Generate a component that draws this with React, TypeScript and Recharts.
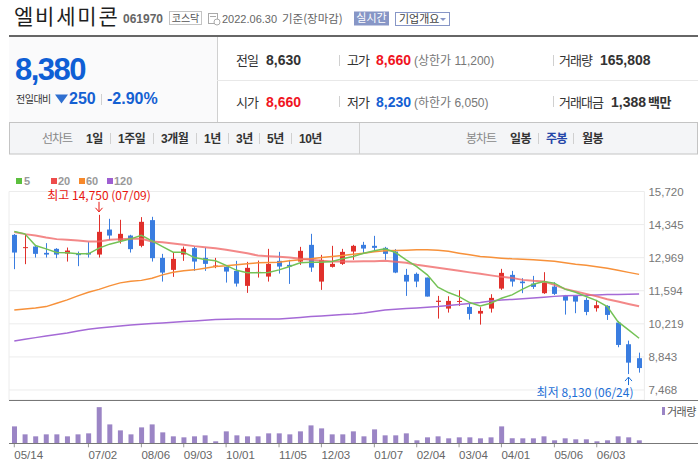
import React from 'react';
import {
  ComposedChart,
  Bar,
  Line,
  XAxis,
  YAxis,
  CartesianGrid,
  ReferenceDot,
} from 'recharts';

const weekLabels = [
  '05/14', '05/21', '05/28', '06/04', '06/11', '06/18', '06/25', '07/02', '07/09', '07/16',
  '07/23', '07/30', '08/06', '08/13', '08/20', '08/27', '09/03', '09/10', '09/17', '09/24',
  '10/01', '10/08', '10/15', '10/22', '10/29', '11/05', '11/12', '11/19', '11/26', '12/03',
  '12/10', '12/17', '12/24', '12/31', '01/07', '01/14', '01/21', '01/28', '02/04', '02/11',
  '02/18', '02/25', '03/04', '03/11', '03/18', '03/25', '04/01', '04/08', '04/15', '04/22',
  '04/29', '05/06', '05/13', '05/20', '05/27', '06/03', '06/10', '06/17', '06/24', '06/30',
];
const tickLabels = ['05/14', '07/02', '08/06', '09/03', '10/01', '11/05', '12/03', '01/07', '02/04', '03/04', '04/01', '05/06', '06/03'];
const priceTicks = [7468, 8843, 10219, 11594, 12969, 14345, 15720];
const priceFloor = 7052;

const opens = [
  13918, 13366, 13431, 13169, 13336, 13140, 13157, 13169, 13099, 14139,
  13681, 13889, 13461, 14530, 12961, 12462, 13099, 13365, 12961, 12599,
  12587, 12420, 11797, 12337, 12183, 12836, 12670, 12807, 13502, 11975,
  12587, 12712, 13224, 13502, 13461, 13378, 13223, 12254, 12296, 12142,
  11130, 10852, 11130, 10922, 10644, 10852, 11684, 12254, 11976, 11892,
  11492, 11767, 11380, 11380, 11213, 10868, 10964, 10269, 9370, 8790,
];
const highs = [
  13950, 13918, 13502, 13573, 13365, 13390, 13224, 13614, 14750, 14584,
  14543, 13920, 14655, 14668, 13128, 13182, 13431, 13431, 13378, 12961,
  12600, 12836, 12795, 12849, 13336, 13211, 12878, 13419, 13960, 13086,
  13461, 13336, 13502, 13627, 13876, 13419, 13325, 12504, 12350, 12142,
  11380, 11367, 11617, 11076, 10908, 11450, 12504, 12420, 12116, 12212,
  12366, 11950, 11420, 11409, 11310, 11213, 10993, 10339, 9520, 9020,
];
const lows = [
  12491, 12699, 12974, 12974, 12949, 12807, 12616, 12974, 12974, 13698,
  13556, 13182, 13400, 12807, 11975, 12171, 12836, 12420, 12420, 12532,
  11933, 11767, 11505, 12142, 11975, 12308, 11879, 12670, 12379, 11630,
  12558, 12670, 12878, 13157, 13224, 12878, 12325, 11380, 11742, 11352,
  10436, 10686, 10964, 10394, 10186, 10686, 11630, 11767, 11493, 11671,
  11463, 11420, 10602, 10660, 10576, 10727, 10381, 9245, 8130, 8190,
];
const closes = [
  13182, 13407, 13128, 13099, 13099, 13265, 13074, 13099, 14043, 13889,
  13960, 13323, 14459, 12949, 12349, 12919, 13336, 12807, 12711, 12641,
  12391, 11892, 12546, 12378, 12712, 12599, 12599, 13253, 12558, 12878,
  12712, 13211, 13461, 13348, 13378, 13128, 12350, 11976, 11976, 11352,
  11180, 11172, 11170, 10631, 10756, 11297, 12337, 11976, 11908, 11754,
  11934, 11463, 11185, 11143, 10714, 10993, 10589, 9341, 8605, 8380,
];
const ma5 = [
  14056, 13960, 13473, 13336, 13182, 13170, 13128, 13128, 13365, 13531,
  13640, 13752, 13898, 13669, 13432, 13199, 13199, 12974, 12891, 12837,
  12650, 12442, 12338, 12338, 12350, 12462, 12600, 12754, 12783, 12783,
  12808, 12920, 13016, 13156, 13253, 13336, 13182, 12878, 12600, 12254,
  11743, 11518, 11352, 11102, 10964, 11077, 11285, 11422, 11660, 11867,
  11975, 11909, 11660, 11534, 11352, 11185, 10935, 10311, 9966, 9620,
];
const ma20 = [
  14031, 13948, 13890, 13806, 13740, 13711, 13681, 13640, 13640, 13711,
  13740, 13752, 13752, 13640, 13615, 13557, 13503, 13449, 13407, 13365,
  13295, 13224, 13157, 13057, 13032, 13003, 12974, 12920, 12878, 12837,
  12808, 12808, 12808, 12816, 12816, 12837, 12795, 12754, 12671, 12608,
  12546, 12483, 12421, 12358, 12296, 12233, 12171, 12129, 12046, 12005,
  11975, 11838, 11672, 11568, 11464, 11360, 11243, 11143, 11047, 10952,
];
const ma60 = [
  10798, 10840, 10881, 10935, 11077, 11214, 11381, 11534, 11651, 11797,
  11921, 11984, 12025, 12117, 12254, 12366, 12421, 12462, 12533, 12600,
  12629, 12670, 12712, 12754, 12766, 12783, 12837, 12878, 12920, 12974,
  13016, 13057, 13107, 13157, 13211, 13253, 13265, 13282, 13294, 13294,
  13274, 13232, 13157, 13086, 13016, 12983, 12949, 12920, 12908, 12878,
  12849, 12816, 12754, 12691, 12650, 12587, 12525, 12442, 12358, 12275,
];
const ma120 = [
  9508, 9579, 9645, 9716, 9778, 9841, 9924, 9995, 10049, 10091,
  10132, 10174, 10203, 10228, 10257, 10286, 10311, 10340, 10369, 10394,
  10411, 10415, 10419, 10424, 10424, 10424, 10453, 10486, 10520, 10548,
  10578, 10607, 10632, 10673, 10735, 10798, 10827, 10852, 10881, 10910,
  10935, 10985, 11027, 11068, 11110, 11164, 11214, 11235, 11264, 11297,
  11326, 11360, 11381, 11393, 11410, 11422, 11435, 11443, 11448, 11460,
];
const volumes = [
  2040000, 1080000, 840000, 1080000, 1080000, 840000, 1080000, 1200000, 4360000, 2280000,
  1560000, 1080000, 1920000, 2280000, 1320000, 840000, 720000, 840000, 960000, 240000,
  1440000, 960000, 840000, 840000, 1200000, 1200000, 1080000, 1440000, 2160000, 1800000,
  1080000, 1080000, 1440000, 840000, 1680000, 960000, 960000, 1200000, 360000, 720000,
  840000, 600000, 720000, 720000, 600000, 720000, 2040000, 600000, 600000, 600000,
  840000, 360000, 600000, 480000, 480000, 240000, 360000, 840000, 720000, 360000,
];
const volumeMax = 5100000;

const highMark = { week: '07/09', price: 14750, text: '최고 14,750 (07/09)' };
const lowMark = { week: '06/24', price: 8130, text: '최저 8,130 (06/24)' };

const rows = weekLabels.map((week, i) => ({
  week,
  open: opens[i],
  high: highs[i],
  low: lows[i],
  close: closes[i],
  ma5: ma5[i],
  ma20: ma20[i],
  ma60: ma60[i],
  ma120: ma120[i],
  volume: volumes[i],
}));

const UP = '#e0302b';
const DOWN = '#3a7de0';
const NUM = "'Liberation Sans', 'Noto Sans CJK KR', sans-serif";
const KR = "'Noto Sans CJK KR', sans-serif";

const fmt = (v: number) => String(v).replace(/\B(?=(\d{3})+(?!\d))/g, ',');

const Candle = (props: any) => {
  const { x, y, width, height, payload } = props;
  if (!payload) return null;
  const top = Math.min(y, y + height);
  const h = Math.abs(height);
  const span = payload.high - payload.low;
  const k = span > 0 ? h / span : 0;
  const color = payload.close >= payload.open ? UP : DOWN;
  const cx = Math.floor(x + width / 2) + 0.5;
  const yOpen = top + (payload.high - payload.open) * k;
  const yClose = top + (payload.high - payload.close) * k;
  const bTop = Math.min(yOpen, yClose);
  const bH = Math.max(1, Math.abs(yOpen - yClose));
  return (
    <g>
      <line x1={cx} x2={cx} y1={top} y2={top + h} stroke={color} strokeWidth={1} />
      <rect x={cx - 2.5} y={bTop} width={5} height={bH} fill={color} />
    </g>
  );
};

const PriceTick = (props: any) => {
  const { x, y, payload } = props;
  return (
    <text x={x} y={y + 4} fontSize={11.5} fill="#777" fontFamily={NUM} textAnchor="start">
      {fmt(payload.value)}
    </text>
  );
};

const DateTick = (props: any) => {
  const { x, y, payload } = props;
  return (
    <text x={x} y={y + 9.5} fontSize={11.5} fill="#666" fontFamily={NUM} textAnchor="start">
      {payload.value}
    </text>
  );
};

const HighMark = (props: any) => {
  const { cx, cy } = props;
  return (
    <g>
      <text x={cx} y={cy - 15} fontSize={12} fill="#e8150f" fontFamily={KR} textAnchor="middle">
        {highMark.text}
      </text>
      <line x1={cx} x2={cx} y1={cy - 13} y2={cy - 3} stroke="#e8150f" />
      <polyline points={`${cx - 3.5},${cy - 7} ${cx},${cy - 3} ${cx + 3.5},${cy - 7}`} fill="none" stroke="#e8150f" />
    </g>
  );
};

const LowMark = (props: any) => {
  const { cx, cy } = props;
  return (
    <g>
      <text x={cx + 5} y={cy + 23} fontSize={12} fill="#1d6fd6" fontFamily={KR} textAnchor="end">
        {lowMark.text}
      </text>
      <line x1={cx} x2={cx} y1={cy + 3} y2={cy + 11} stroke="#1d6fd6" />
      <polyline points={`${cx - 3.5},${cy + 7} ${cx},${cy + 3} ${cx + 3.5},${cy + 7}`} fill="none" stroke="#1d6fd6" />
    </g>
  );
};

const T = (p: { x: number; y: number; s: number; c?: string; b?: boolean; f?: string; ls?: number; a?: string; children: React.ReactNode }) => (
  <text
    x={p.x}
    y={p.y}
    fontSize={p.s}
    fill={p.c || '#333'}
    fontWeight={p.b ? 'bold' : 'normal'}
    fontFamily={p.f || NUM}
    letterSpacing={p.ls || 0}
    textAnchor={p.a || 'start'}
  >
    {p.children}
  </text>
);

const Sep = ({ x, y1, y2 }: { x: number; y1: number; y2: number }) => (
  <line x1={x} x2={x} y1={y1} y2={y2} stroke="#d0d0d0" />
);

const Header = () => (
  <svg width={698} height={200} style={{ position: 'absolute', left: 0, top: 0 }}>
    <T x={14} y={24} s={21} c="#1e1e1e" f={KR} ls={1.8}>엘비세미콘</T>
    <T x={123} y={22.5} s={12} c="#666" b>061970</T>
    <rect x={169.5} y={11.5} width={32} height={13} fill="#fff" stroke="#c4c4c4" />
    <T x={185.5} y={21.5} s={10} c="#555" f={KR} a="middle">코스닥</T>
    <rect x={208.5} y={13.5} width={9} height={10} fill="none" stroke="#aaa" />
    <line x1={210} x2={216} y1={16.5} y2={16.5} stroke="#aaa" />
    <circle cx={217} cy={22} r={3} fill="#fff" stroke="#aaa" />
    <T x={222} y={22.5} s={11} c="#666">2022.06.30</T>
    <T x={282} y={23} s={11.5} c="#666" f={KR}>기준(장마감)</T>
    <rect x={354} y={11.5} width={35} height={14} fill="#8796c6" />
    <T x={371.5} y={22} s={11} c="#fff" f={KR} a="middle">실시간</T>
    <rect x={395.5} y={12.5} width={54} height={13} fill="#fff" stroke="#8796c6" />
    <T x={399} y={22.5} s={11} c="#444" f={KR}>기업개요</T>
    <polygon points="440,18 446,18 443,21" fill="#8796c6" />
    <rect x={9} y={35} width={689} height={2} fill="#666" />

    <rect x={9} y={37} width={208} height={85} fill="#fafafb" />
    <Sep x={217.5} y1={37} y2={122} />
    <line x1={217} x2={698} y1={80.5} y2={80.5} stroke="#e8e8e8" />
    <T x={15} y={80} s={31} c="#0f5fd5" b ls={-1.5}>8,380</T>
    <T x={16} y={103} s={10} c="#333" f={KR} ls={-0.5}>전일대비</T>
    <polygon points="55,94.5 68,94.5 61.5,103.5" fill="#2f6fd0" />
    <T x={69} y={104} s={16} c="#1460d2" b>250</T>
    <Sep x={101.5} y1={94} y2={105} />
    <T x={107} y={104} s={16} c="#1460d2" b>-2.90%</T>

    <T x={236} y={65} s={13} c="#333" f={KR} ls={-1}>전일</T>
    <T x={266} y={65} s={14} c="#333" b>8,630</T>
    <Sep x={339.5} y1={55} y2={66} />
    <T x={347} y={65} s={13} c="#333" f={KR} ls={-1}>고가</T>
    <T x={376} y={65} s={14} c="#f0141e" b>8,660</T>
    <T x={414} y={65} s={12} c="#777">(상한가 11,200)</T>
    <Sep x={553.5} y1={55} y2={66} />
    <T x={559} y={65} s={13} c="#333" f={KR} ls={-1}>거래량</T>
    <T x={600} y={65} s={14} c="#333" b>165,808</T>

    <T x={236} y={106.5} s={13} c="#333" f={KR} ls={-1}>시가</T>
    <T x={266} y={106.5} s={14} c="#f0141e" b>8,660</T>
    <Sep x={339.5} y1={96} y2={107} />
    <T x={347} y={106.5} s={13} c="#333" f={KR} ls={-1}>저가</T>
    <T x={376} y={106.5} s={14} c="#1460d2" b>8,230</T>
    <T x={414} y={106.5} s={12} c="#777">(하한가 6,050)</T>
    <Sep x={553.5} y1={96} y2={107} />
    <T x={559} y={106.5} s={13} c="#333" f={KR} ls={-1}>거래대금</T>
    <T x={611} y={106.5} s={14} c="#333" b>1,388</T>
    <T x={648} y={106.5} s={13} c="#333" f={KR} b ls={-0.5}>백만</T>

    <rect x={9.5} y={122.5} width={688} height={31.5} fill="#f4f5f7" stroke="#c4c4c4" />
    <Sep x={359.5} y1={123} y2={154} />
    <T x={42} y={143} s={12} c="#888" f={KR} ls={-1}>선차트</T>
    <T x={86} y={143} s={12} c="#333" b ls={-0.5}>1일</T>
    <Sep x={110.5} y1={133} y2={144} />
    <T x={118} y={143} s={12} c="#333" b ls={-0.5}>1주일</T>
    <Sep x={153.5} y1={133} y2={144} />
    <T x={161} y={143} s={12} c="#333" b ls={-0.5}>3개월</T>
    <Sep x={196.5} y1={133} y2={144} />
    <T x={204} y={143} s={12} c="#333" b ls={-0.5}>1년</T>
    <Sep x={228.5} y1={133} y2={144} />
    <T x={236} y={143} s={12} c="#333" b ls={-0.5}>3년</T>
    <Sep x={259.5} y1={133} y2={144} />
    <T x={267} y={143} s={12} c="#333" b ls={-0.5}>5년</T>
    <Sep x={291.5} y1={133} y2={144} />
    <T x={299} y={143} s={12} c="#333" b ls={-0.5}>10년</T>
    <T x={466} y={143} s={12} c="#888" f={KR} ls={-1}>봉차트</T>
    <T x={510} y={143} s={12} c="#333" f={KR} b ls={-0.5}>일봉</T>
    <Sep x={538.5} y1={133} y2={144} />
    <T x={546} y={143} s={12} c="#2546a8" f={KR} b ls={-0.5}>주봉</T>
    <Sep x={573.5} y1={133} y2={144} />
    <T x={582} y={143} s={12} c="#333" f={KR} b ls={-0.5}>월봉</T>

    <rect x={16} y={178} width={6} height={6} fill="#5cbf3e" />
    <T x={24} y={185} s={11} c="#999" b>5</T>
    <rect x={51} y={178} width={6} height={6} fill="#ee4b4b" />
    <T x={58} y={185} s={11} c="#999" b>20</T>
    <rect x={79} y={178} width={6} height={6} fill="#f7882a" />
    <T x={86} y={185} s={11} c="#999" b>60</T>
    <rect x={107} y={178} width={6} height={6} fill="#9e5fd1" />
    <T x={114} y={185} s={11} c="#999" b>120</T>
  </svg>
);

export default function App() {
  return (
    <div style={{ position: 'absolute', left: 0, top: 0, width: 698, height: 468, background: '#fff', overflow: 'hidden' }}>
      <Header />
      <div style={{ position: 'absolute', left: 0, top: 0 }}>
        <ComposedChart width={698} height={401} data={rows} margin={{ top: 191.5, right: 0, bottom: 1, left: 9 }}>
          <CartesianGrid stroke="#ececec" />
          <XAxis dataKey="week" ticks={tickLabels} interval={0} height={0} tick={false} axisLine={false} tickLine={false} />
          <YAxis
            orientation="right"
            width={53.6}
            domain={[priceFloor, 15720]}
            ticks={priceTicks}
            interval={0}
            axisLine={false}
            tickLine={false}
            tickSize={0}
            tickMargin={4}
            tick={<PriceTick />}
          />
          <Bar dataKey={(d: any) => [d.low, d.high]} shape={<Candle />} barSize={5} isAnimationActive={false} />
          <Line dataKey="ma120" type="linear" stroke="#a56ad6" strokeWidth={1.5} dot={false} activeDot={false} isAnimationActive={false} />
          <Line dataKey="ma60" type="linear" stroke="#f7913a" strokeWidth={1.5} dot={false} activeDot={false} isAnimationActive={false} />
          <Line dataKey="ma20" type="linear" stroke="#f06a6a" strokeOpacity={0.8} strokeWidth={2} dot={false} activeDot={false} isAnimationActive={false} />
          <Line dataKey="ma5" type="linear" stroke="#74c256" strokeWidth={1.5} dot={false} activeDot={false} isAnimationActive={false} />
          <ReferenceDot x={highMark.week} y={highMark.price} shape={<HighMark />} ifOverflow="visible" />
          <ReferenceDot x={lowMark.week} y={lowMark.price} shape={<LowMark />} ifOverflow="visible" />
        </ComposedChart>
      </div>
      <div style={{ position: 'absolute', left: 9, top: 400, width: 689, height: 1, background: '#777' }} />
      <div style={{ position: 'absolute', left: 0, top: 0 }}>
        <ComposedChart width={698} height={468} data={rows} margin={{ top: 401, right: 53.6, bottom: 0, left: 9 }}>
          <XAxis
            dataKey="week"
            ticks={tickLabels}
            interval={0}
            height={24.7}
            axisLine={false}
            tickLine={{ stroke: '#999' }}
            tickSize={4}
            tickMargin={2}
            tick={<DateTick />}
          />
          <YAxis hide domain={[0, volumeMax]} />
          <Bar dataKey="volume" fill="#9b85c5" barSize={5} isAnimationActive={false} />
        </ComposedChart>
      </div>
      <div style={{ position: 'absolute', left: 9, top: 443, width: 689, height: 1, background: '#777' }} />
      <div style={{ position: 'absolute', left: 662, top: 407, width: 3, height: 8, background: '#9b85c5' }} />
      <div style={{ position: 'absolute', left: 667, top: 403, fontSize: 11, lineHeight: '16px', color: '#555', fontFamily: KR, letterSpacing: -0.5 }}>
        거래량
      </div>
    </div>
  );
}
